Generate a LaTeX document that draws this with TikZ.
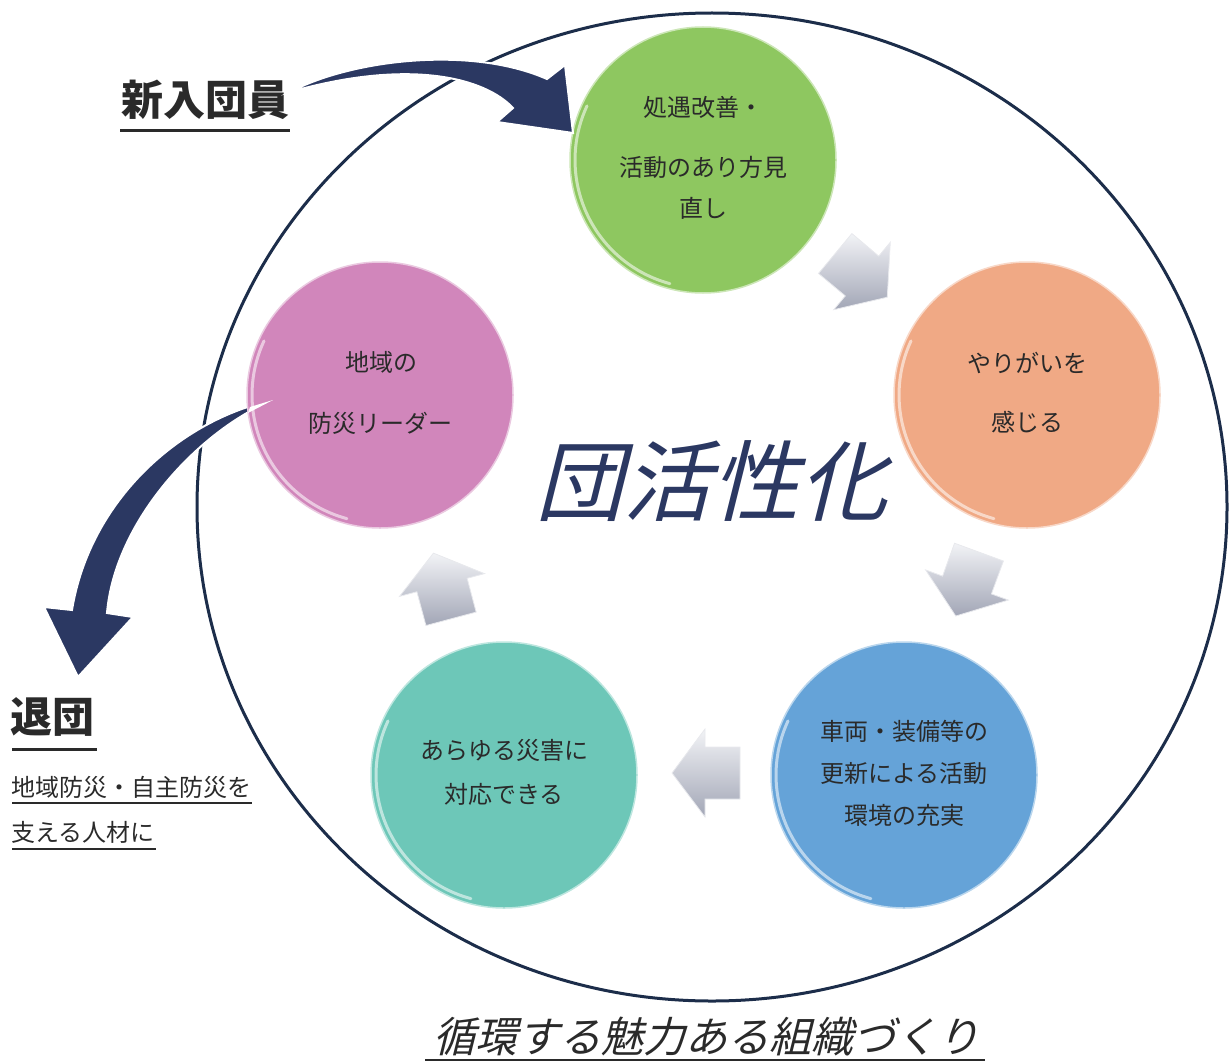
\documentclass[tikz,border=0pt]{standalone}
\usepackage{fontspec}
\newfontfamily\jp{Noto Sans CJK JP}
\newfontfamily\jpsl[FakeSlant=0.25]{Noto Sans CJK JP}
\definecolor{navy}{HTML}{2B3862}
\definecolor{ringc}{HTML}{1C2D4A}
\definecolor{cgreen}{HTML}{8EC760}
\definecolor{corange}{HTML}{F0A985}
\definecolor{cblue}{HTML}{65A3D8}
\definecolor{cteal}{HTML}{6DC7B8}
\definecolor{cpink}{HTML}{D186BB}
\definecolor{txt}{HTML}{2A2A2A}
\definecolor{glight}{HTML}{F2F3F6}
\definecolor{gdark}{HTML}{A2A6B6}
\tikzset{
  ball/.style={circle, minimum size=266pt, inner sep=0pt, fill=#1, draw=white!55!#1, line width=1.5pt},
  hl/.style={draw=white, opacity=0.55, line width=3pt, line cap=round},
  ctext/.style={font=\jp\fontsize{24}{28}\selectfont, text=txt, inner sep=0pt},
  side/.style={font=\jp\fontsize{24}{28}\selectfont, text=txt, inner sep=0pt, anchor=west},
  headline/.style={font=\jp\bfseries\fontsize{42}{48}\selectfont, text=txt, inner sep=0pt},
  garrow/.style={top color=glight, bottom color=gdark, draw=white!75!gdark, line width=0.8pt, line join=miter},
  bigarrow/.style={fill=navy, draw=white, line width=2pt, line join=miter},
  ring/.style={draw=ringc, line width=3pt},
  uline/.style={draw=txt, line width=#1},
}
\newcommand\cyclearrow[3]{%
  \begin{scope}[shift={(#1)}, rotate=#2]
    \coordinate (#3) at (0,0);
    \path[garrow] (-35,-26) -- (0,-26) -- (0,-44) -- (33,0) -- (0,44) -- (0,26) -- (-35,26) -- cycle;
  \end{scope}}
\begin{document}
\begin{tikzpicture}[x=1pt,y=-1pt]
\useasboundingbox (0,0) rectangle (1230,1062);
% outer ring
\draw[ring] (712,507) ellipse [x radius=515, y radius=494];

% exit arrow (behind the pink ball)
\coordinate (exittail) at (273,400);
\coordinate (exittip) at (78,677);
\path[bigarrow] (exittail) .. controls (180,420) and (90,500) .. (72,610) -- (44,607) -- (exittip)
   -- (133,617) -- (107,613) .. controls (115,520) and (200,430) .. (exittail) -- cycle;

% balls
\node[ball=cgreen]  (green)  at (703,160) {};
\node[ball=corange] (orange) at (1027,395) {};
\node[ball=cblue]   (blue)   at (904,775) {};
\node[ball=cteal]   (teal)   at (504,775) {};
\node[ball=cpink]   (pink)   at (380,395) {};
\foreach \n in {green,orange,blue,teal,pink}{
  \draw[hl] ([shift={(105:128)}]\n.center) arc[start angle=105, end angle=205, radius=128];
}
% white tail sliver of the exit arrow on the pink ball
\fill[white] (exittail) -- (248,413) -- (250,407) -- cycle;

% entry arrow
\node[headline, anchor=center] (newm) at (205,100) {新入団員};
\draw[uline=3pt] (120,130) -- (290,130);
\coordinate (entrytail) at (290,92);
\coordinate (entrytip) at (573,133);
\path[bigarrow] (entrytail) .. controls (350,60) and (470,45) .. (547,79) -- (565,65) -- (entrytip)
   -- (497,122) -- (513,108) .. controls (485,78) and (410,58) .. (entrytail) -- cycle;

% gray cycle arrows
\cyclearrow{862,276}{-40}{a1}
\cyclearrow{967,585}{-110}{a2}
\cyclearrow{705,773}{-180}{a3}
\cyclearrow{442,585}{-255}{a4}

% ball texts
\node[ctext] (g1) at (703,107) {処遇改善・};
\node[ctext] (g2) at (703,167) {活動のあり方見};
\node[ctext] (g3) at (703,208) {直し};
\node[ctext] (o1) at (1027,363) {やりがいを};
\node[ctext] (o2) at (1027,422) {感じる};
\node[ctext] (b1) at (904,731) {車両・装備等の};
\node[ctext] (b2) at (904,773) {更新による活動};
\node[ctext] (b3) at (904,815) {環境の充実};
\node[ctext] (t1) at (504,750) {あらゆる災害に};
\node[ctext] (t2) at (504,794) {対応できる};
\node[ctext] (p1) at (381,362) {地域の};
\node[ctext] (p2) at (380,423) {防災リーダー};

% centre title
\node[font=\jpsl\fontsize{88}{92}\selectfont, text=navy, inner sep=0pt] (title) at (711,481) {団活性化};

% leaving members
\node[headline, anchor=west] (leave) at (10,717) {退団};
\draw[uline=3pt] (12,749) -- (97,749);
\node[side] (s1) at (11,787) {地域防災・自主防災を};
\draw[uline=2pt] (12,803) -- (252,803);
\node[side] (s2) at (11,832) {支える人材に};
\draw[uline=2pt] (12,849) -- (156,849);

% bottom caption
\node[font=\jpsl\fontsize{42}{46}\selectfont, text=txt, inner sep=0pt] (caption) at (706,1037) {循環する魅力ある組織づくり};
\draw[uline=2pt] (425,1060) -- (985,1060);
\end{tikzpicture}
\end{document}
